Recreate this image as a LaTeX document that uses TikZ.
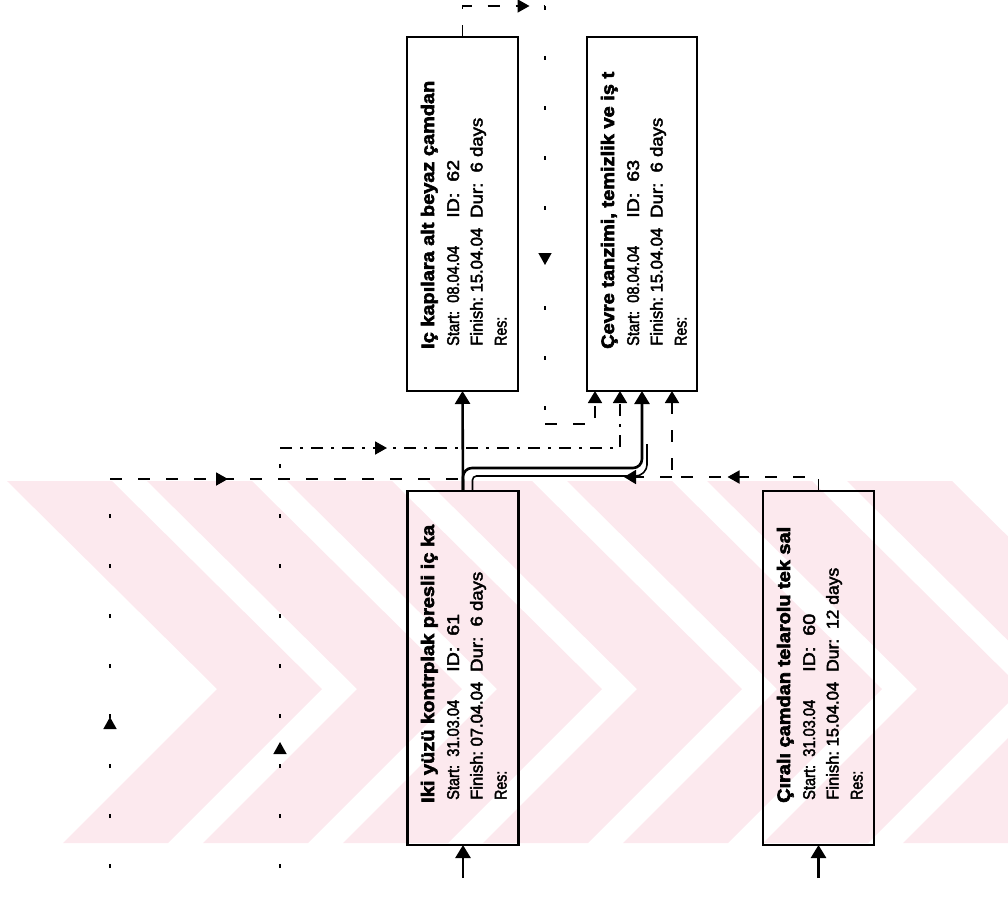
\documentclass[tikz,border=0pt]{standalone}
\usepackage{fontspec}
\setmainfont{Liberation Sans}
\newfontfamily\regfont{Liberation Sans}[FakeBold=2.5]
\newfontfamily\ttlfont{Liberation Sans Bold}[FakeBold=3]
\usepackage{graphicx}
\usetikzlibrary{calc,arrows.meta,decorations.markings}
\definecolor{wm}{HTML}{FCE9EE}
\newcommand{\fw}[2]{\resizebox{#1pt}{\height}{#2}}
\newcommand{\tb}[9]{%
 \node[ttl] (t#6) at (#1+27,#2-42) {\fw{#4}{#3}};
 \node[txt] (s#6) at (#1+52,#2-45) {\fw{100}{Start:\ \ #5}};
 \node[txt] (i#6) at (#1+52,#2-45-128) {\fw{58}{ID:\ \ #6}};
 \node[txt] (f#6) at (#1+75.5,#2-45) {\fw{118}{Finish:\ #7}};
 \node[txt] (d#6) at (#1+75.5,#2-45-128) {\fw{#9}{Dur:\ \ #8}};
 \node[txt] (r#6) at (#1+99.5,#2-45) {\fw{29}{Res:}};
}
\begin{document}
\begin{tikzpicture}[x=1pt,y=-1pt,
  box/.style={draw, line width=2.6pt, minimum width=111pt, minimum height=354pt, inner sep=0pt, outer sep=0pt},
  ttl/.style={anchor=base west, rotate=90, inner sep=0pt, font=\fontsize{18}{18}\ttlfont},
  txt/.style={anchor=base west, rotate=90, inner sep=0pt, font=\fontsize{17}{17}\regfont},
  crit/.style={line width=2.6pt, -{Triangle[length=13pt,width=15pt]}},
  nc/.style={line width=1.8pt, dash pattern=on 12pt off 16pt},
  ncd/.style={line width=1.8pt, dash pattern=on 12pt off 8pt on 3pt off 8pt},
  faint/.style={line width=1.4pt, dash pattern=on 4pt off 46pt},
  thin/.style={line width=1.6pt},
  tip/.style={-{Triangle[length=12pt,width=14pt]}},
  mid/.style={postaction={decorate,decoration={markings,mark=at position #1 with {\arrow{Triangle[length=12pt,width=13pt]}}}}}
]
\useasboundingbox (0,0) rectangle (1008,899);
% watermark
\begin{scope}
\clip (0,481) rectangle (1008,843);
\foreach \k in {0,...,6}{
  \pgfmathsetmacro\cx{217+140*\k}
  \fill[wm] (\cx-210,481) -- (\cx-210+105,481) -- (\cx+105,689) -- (\cx+105-154,843) -- (\cx-154,843) -- (\cx,689) -- cycle;
}
\end{scope}
% boxes
\node[box] (b62) at (462.5,214) {};
\node[box, minimum width=110pt] (b63) at (642,214) {};
\node[box] (b61) at (463,668) {};
\node[box] (b60) at (818.5,668) {};
% texts
\tb{407}{391}{Iç kapılara alt beyaz çamdan}{268}{08.04.04}{62}{15.04.04}{6 days}{100}
\tb{587}{391}{Çevre tanzimi, temizlik ve iş t}{277}{08.04.04}{63}{15.04.04}{6 days}{100}
\tb{407}{845}{Iki yüzü kontrplak presli iç ka}{278}{31.03.04}{61}{07.04.04}{6 days}{100}
\tb{763}{845}{Çıralı çamdan telarolu tek sal}{276}{31.03.04}{60}{15.04.04}{12 days}{104}
% incoming arrows at bottom
\coordinate (in61) at (463,878);
\coordinate (in60) at (818.5,878);
\draw[crit] (in61) -- (b61.south);
\draw[crit] (in60) -- (b60.south);
% waypoints
\coordinate (l1) at (110,868);
\coordinate (l2) at (280,868);
\coordinate (c7a) at (110,479);
\coordinate (c7b) at (468,479);
\coordinate (c6a) at (280,448);
\coordinate (c4b) at (545,6);
\coordinate (c4c) at (545,424);
\coordinate (c5a) at (672,477);
\coordinate (c5b) at (624,477);
% critical links
\draw[crit] (b61.north) -- (b62.south);
\draw[crit, rounded corners=9pt] (b61.north) -- ++(0,-23) -| (b63.south);
% non-critical links
\draw[nc, mid=98pt] (b62.north) |- (c4b);
\draw[faint, mid=259pt] (c4b) -- (c4c);
\draw[nc, tip] (c4c) -| ($(b63.south west)+(8,0)$);
\draw[faint, mid=126pt] (l2) -- (c6a);
\draw[ncd, tip, mid=107pt] (c6a) -| ($(b63.south west)+(33,0)$);
\draw[faint, mid=151pt] (l1) -- (c7a);
\draw[nc, mid=118pt] (c7a) -- (c7b);
\draw[thin, rounded corners=4pt] (b61.north east) ++(-46,0) -- ++(0,-15) -- (640,476) -- ++(7,-7) -- ++(0,-25);
\draw[nc, tip, mid=105pt] (b60.north) |- (c5a) -- ($(b63.south west)+(85,0)$);
\draw[nc, tip] (c5a) -- (c5b);
\end{tikzpicture}
\end{document}
